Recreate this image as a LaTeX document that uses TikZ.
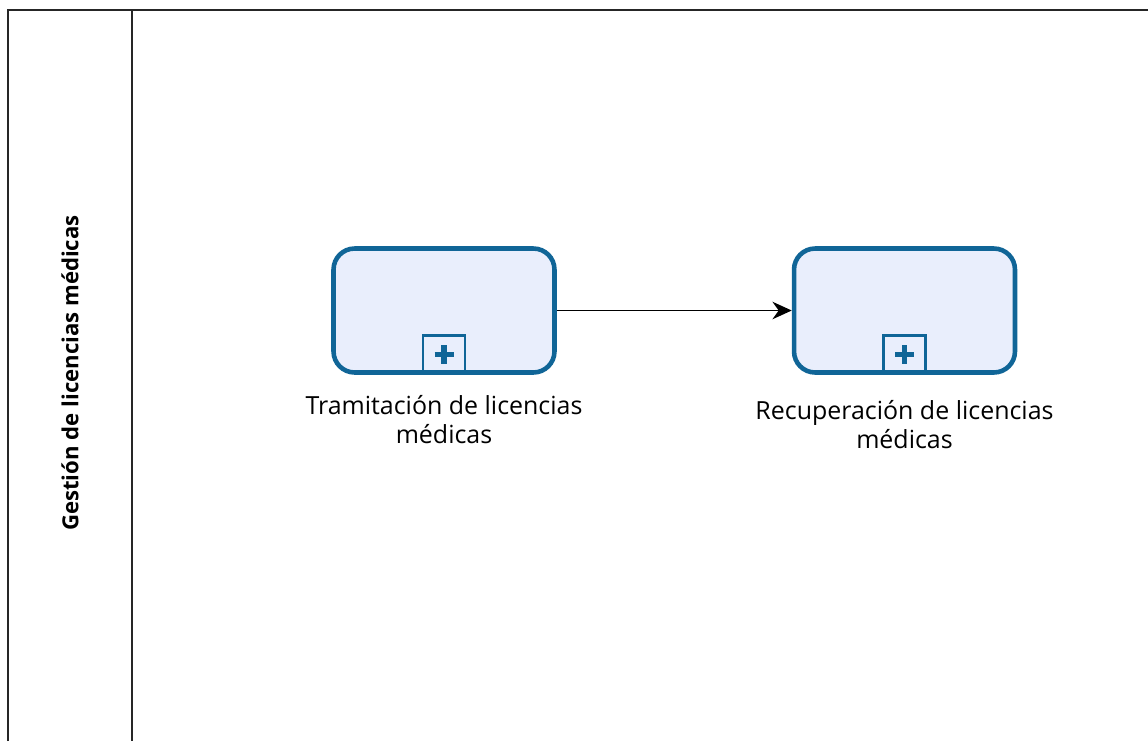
\documentclass[tikz,border=0pt]{standalone}
\usepackage{fontspec}
\setmainfont{Open Sans}
\definecolor{taskblue}{RGB}{16, 101, 151}
\definecolor{taskfill}{RGB}{233, 238, 252}
\usetikzlibrary{arrows.meta, positioning}

\begin{document}
\begin{tikzpicture}[x=0.02cm, y=-0.02cm]
  \useasboundingbox (0, 0) rectangle (1148, 741);

  % Pool and lane
  \draw[line width=1.2pt, black!85] (8, 741) -- (8, 10) -- (1148, 10);
  \draw[line width=1.2pt, black!85] (132, 10) -- (132, 741);
  \node[rotate=90, font=\fontsize{12.6}{15}\selectfont\bfseries] (lane) at (70, 373) {Gestión de licencias médicas};

  % Sub-processes
  \node[draw=taskblue, fill=taskfill, line width=2.6pt, rounded corners=12pt, minimum width=4.42cm, minimum height=2.48cm] (tram) at (444, 310.5) {};
  \node[draw=taskblue, fill=taskfill, line width=2.6pt, rounded corners=12pt, minimum width=4.42cm, minimum height=2.48cm] (recu) at (904.5, 310.5) {};

  % Collapsed markers
  \node[draw=taskblue, line width=1.6pt, minimum width=0.84cm, minimum height=0.76cm, anchor=south, inner sep=0pt] (tramplus) at (tram.south) {};
  \draw[taskblue, line width=3.2pt] ([xshift=-0.19cm]tramplus.center) -- ([xshift=0.19cm]tramplus.center);
  \draw[taskblue, line width=3.2pt] ([yshift=-0.19cm]tramplus.center) -- ([yshift=0.19cm]tramplus.center);
  \node[draw=taskblue, line width=1.6pt, minimum width=0.84cm, minimum height=0.76cm, anchor=south, inner sep=0pt] (recuplus) at (recu.south) {};
  \draw[taskblue, line width=3.2pt] ([xshift=-0.19cm]recuplus.center) -- ([xshift=0.19cm]recuplus.center);
  \draw[taskblue, line width=3.2pt] ([yshift=-0.19cm]recuplus.center) -- ([yshift=0.19cm]recuplus.center);

  % Labels
  \node[below=0.28cm of tram, align=center, font=\fontsize{14.2}{17}\selectfont] (tramlabel) {Tramitación de licencias\\médicas};
  \node[below=0.38cm of recu, align=center, font=\fontsize{14.2}{17}\selectfont] (reculabel) {Recuperación de licencias\\médicas};

  % Flow
  \draw[-{Stealth[length=11pt, width=10pt]}, line width=0.9pt] (tram.east) -- (recu.west);
\end{tikzpicture}
\end{document}
